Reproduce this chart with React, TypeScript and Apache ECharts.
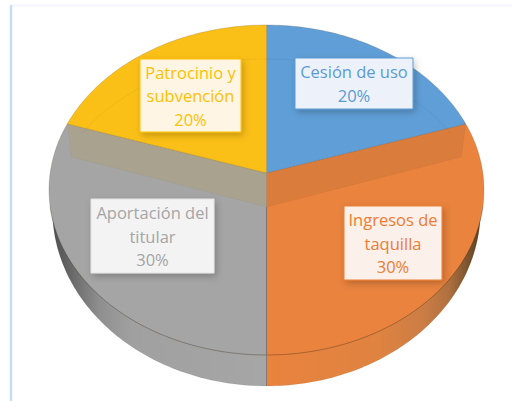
import React, { useEffect, useRef } from "react";
import * as echarts from "echarts";

const categories = ["Cesión de uso", "Ingresos de taquilla", "Aportación del titular", "Patrocinio y subvención"];
const labelLines = ["Cesión de uso", "Ingresos de\ntaquilla", "Aportación del\ntitular", "Patrocinio y\nsubvención"];
const shares = [20, 30, 30, 20];

const faceColors = ["#609ED7", "#E9833E", "#A5A5A5", "#FBC017"];
const textColors = ["#5B9BD5", "#ED7D31", "#A5A5A5", "#FFC000"];
const boxFills = ["#EDF2FA", "#FBF0EA", "#F3F3F3", "#FEF5E5"];
const boxStrokes = ["#5B9BD5", "#ED7D31", "#E4E4E4", "#FFC000"];
const bandColors = ["", "#D97C3C", "#A9A28F", ""];
// label box: x, y, w, h
const boxes = [
  [295, 58, 118, 51],
  [344, 206, 98, 74],
  [91, 199, 123, 74],
  [140, 59, 101, 73],
];

const CX = 266.5, CY = 190, RX = 217.5, RY = 165;
const APEX_Y = 173, BAND = 34;
const WALL_CY = 210, WALL_RX = 214, WALL_RY = 176;

const TAU = Math.PI * 2;
function rayParam(theta: number) {
  const oy = (CY - APEX_Y) / RY;
  const dx = Math.sin(theta), dy = Math.cos(theta);
  const b = oy * dy;
  const c = oy * oy - 1;
  const s = -b + Math.sqrt(b * b - c);
  let phi = Math.atan2(dx * s, oy + dy * s);
  if (phi < -1e-6) phi += TAU;
  return phi;
}
const pt = (phi: number, cy = CY, rx = RX, ry = RY): number[] => [CX + rx * Math.sin(phi), cy - ry * Math.cos(phi)];
function arc(a: number, b: number, cy = CY, rx = RX, ry = RY) {
  const out: number[][] = [];
  const n = Math.max(2, Math.ceil(Math.abs(b - a) / 0.02));
  for (let i = 0; i <= n; i++) out.push(pt(a + ((b - a) * i) / n, cy, rx, ry));
  return out;
}

function renderItem(params: any, api: any) {
  const i = params.dataIndex;
  const total = shares.reduce((s, v) => s + v, 0);
  let before = 0;
  for (let k = 0; k < i; k++) before += shares[k];
  const value = api.value(0);
  const t0 = (before / total) * TAU;
  const t1 = ((before + value) / total) * TAU;
  const p0 = rayParam(t0);
  let p1 = rayParam(t1);
  if (p1 <= p0 + 1e-6) p1 += TAU;

  const midX = Math.sin((t0 + t1) / 2);
  const isFront = Math.cos((t0 + t1) / 2) < 0;
  const children: any[] = [];

  if (isFront) {
    // side wall on the lower half only
    const a = Math.max(p0, Math.PI / 2);
    const b = Math.min(p1, (3 * Math.PI) / 2);
    const stopsRight = [
      { offset: 0, color: "#E9833E" },
      { offset: 0.52, color: "#DF8340" },
      { offset: 0.73, color: "#CC7D45" },
      { offset: 0.85, color: "#B0713F" },
      { offset: 0.97, color: "#6B4A2A" },
      { offset: 1, color: "#5F4026" },
    ];
    const stopsLeft = [
      { offset: 0, color: "#505050" },
      { offset: 0.08, color: "#666666" },
      { offset: 0.22, color: "#8F8F8F" },
      { offset: 0.37, color: "#A0A0A0" },
      { offset: 1, color: "#A6A6A6" },
    ];
    children.push({
      type: "polygon",
      z2: 1,
      shape: { points: [[CX, WALL_CY], ...arc(a, b, WALL_CY, WALL_RX, WALL_RY)] },
      style: {
        fill: new echarts.graphic.LinearGradient(0, 0, 1, 0, midX > 0 ? stopsRight : stopsLeft),
        stroke: "rgba(0,0,0,0.1)",
        lineWidth: 0.5,
      },
    });
  }

  children.push({
    type: "polygon",
    z2: isFront ? 2 : 6,
    shape: { points: [[CX, APEX_Y], ...arc(p0, p1)] },
    style: { fill: faceColors[i], stroke: "rgba(90,70,50,0.3)", lineWidth: 0.7 },
  });

  if (isFront) {
    // front edge of the top face
    const a = Math.max(p0, Math.PI / 2 + 0.1);
    const b = Math.min(p1, (3 * Math.PI) / 2 - 0.1);
    children.push({
      type: "polyline",
      z2: 3,
      shape: { points: arc(a, b) },
      style: { fill: "none", stroke: "rgba(0,0,0,0.2)", lineWidth: 0.8 },
    });
    // band between the back wedge and the inner face
    const backPhi = midX > 0 ? p0 : p1;
    const rim = pt(backPhi);
    const inner = [rim[0] - Math.sign(midX) * 4.5, rim[1] + BAND - 1];
    children.push({
      type: "polygon",
      z2: 4,
      shape: { points: [[CX, APEX_Y], rim, inner, [CX, APEX_Y + BAND]] },
      style: { fill: bandColors[i], stroke: "rgba(0,0,0,0.05)", lineWidth: 0.5 },
    });
    // centre divider
    children.push({
      type: "line",
      z2: 5,
      shape: { x1: CX, y1: APEX_Y + BAND, x2: CX, y2: WALL_CY + WALL_RY },
      style: { stroke: "rgba(120,110,100,0.55)", lineWidth: 1 },
    });
  } else {
    // faint inner arc of the back wedges
    const a = midX > 0 ? 0 : p0 + 0.1;
    const b = midX > 0 ? p1 - 0.1 : TAU;
    children.push({
      type: "polyline",
      z2: 7,
      shape: { points: arc(a, b, 205, 211, 146) },
      style: { fill: "none", stroke: "rgba(0,0,0,0.08)", lineWidth: 0.7 },
    });
  }

  const [bx, by, bw, bh] = boxes[i];
  children.push({
    type: "rect",
    z2: 10,
    shape: { x: bx, y: by, width: bw, height: bh },
    style: {
      fill: boxFills[i],
      stroke: boxStrokes[i],
      lineWidth: 1,
      shadowBlur: 7,
      shadowOffsetX: 2,
      shadowOffsetY: 3,
      shadowColor: "rgba(0,0,0,0.22)",
    },
  });
  children.push({
    type: "text",
    z2: 11,
    style: {
      text: `${labelLines[i]}\n${value}%`,
      x: bx + bw / 2,
      y: by + bh / 2,
      align: "center",
      verticalAlign: "middle",
      fill: textColors[i],
      font: '16.5px "Open Sans"',
      lineHeight: 23.5,
    },
  });

  return { type: "group", children };
}

export default function App() {
  const ref = useRef<HTMLDivElement>(null);
  useEffect(() => {
    const chart = echarts.init(ref.current!, null, { renderer: "svg" });
    chart.setOption({
      animation: false,
      graphic: [
        { type: "line", silent: true, shape: { x1: 11, y1: 5.5, x2: 512, y2: 5.5 }, style: { stroke: "#F2F7FD", lineWidth: 2 } },
        { type: "line", silent: true, shape: { x1: 11, y1: 5, x2: 11, y2: 401 }, style: { stroke: "#C6DEF4", lineWidth: 2.5 } },
      ],
      series: [
        {
          type: "custom",
          coordinateSystem: "none",
          silent: true,
          clip: false,
          renderItem,
          data: shares.map((v, i) => ({ name: categories[i], value: v })),
        },
      ],
    });
    return () => chart.dispose();
  }, []);
  return <div ref={ref} style={{ position: "absolute", left: 0, top: 0, width: 512, height: 401, background: "#fff" }} />;
}
